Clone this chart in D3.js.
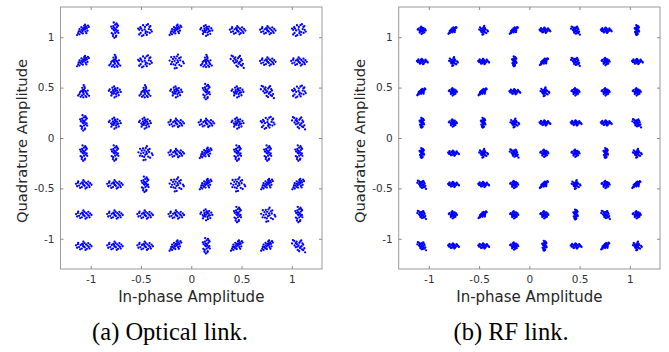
<!DOCTYPE html>
<html>
<head>
<meta charset="utf-8">
<script src="https://cdn.jsdelivr.net/npm/d3@7"></script>
<style>
  html, body { margin: 0; padding: 0; background: #fff; }
  svg { display: block; }
  .tick text { font-family: "DejaVu Sans", sans-serif; font-size: 10.5px; fill: #333; }
  .tick line { stroke: #8a8a8a; }
  .domain { display: none; }
</style>
</head>
<body>
<svg id="chart" width="669" height="352"></svg>
<script>
const levels = [-1.07, -0.76, -0.46, -0.15, 0.15, 0.46, 0.76, 1.07];
const tickValues = [-1, -0.5, 0, 0.5, 1];
const tickLabels = ['-1', '-0.5', '0', '0.5', '1'];
const captions = ['(a) Optical link.', '(b) RF link.'];

// scatter shapes around each symbol, in 1/1000 amplitude units (estimated by eye)
const shapesOptical = [
  [[-65,-49],[-54,-30],[-41,-41],[-35,-11],[-24,-24],[-19,5],[-11,-8],[-5,19],[3,3],[11,24],[16,11],[24,35],[32,19],[43,46],[51,32],[-22,30],[19,-14],[-41,11],[38,-5],[5,43],[-8,-32],[27,-30],[-49,-11],[14,54]],
  [[0,0],[22,11],[-19,14],[12,-24],[-11,-20],[35,-8],[-36,-5],[5,32],[27,35],[-24,39],[49,19],[-51,22],[15,-46],[-7,51],[39,-36],[-34,-38],[59,-3],[-59,8],[-3,-57],[9,16],[-14,-3],[24,-11],[-27,-19],[0,24]],
  [[-76,5],[-57,16],[-45,-12],[-30,8],[-15,19],[-4,-3],[11,-15],[24,14],[38,1],[51,-11],[65,12],[78,-4],[-18,-27],[8,27],[-3,41],[-35,-35],[32,-30],[-54,30],[19,-41],[-8,11],[46,27],[-65,-19],[59,-27],[3,-8]],
  [[-5,-76],[14,-54],[-16,-41],[4,-27],[19,-14],[-12,3],[5,16],[20,30],[-15,41],[3,54],[16,68],[-11,76],[30,-4],[-27,16],[35,-27],[-30,-30],[32,43],[-35,35],[11,-65],[-19,-59],[-3,-5],[11,5],[-8,24],[24,54]],
  [[-57,4],[-46,30],[-19,49],[16,51],[45,32],[58,3],[47,-27],[18,-47],[-16,-50],[-43,-28],[-3,7],[-68,16],[68,-14],[30,59],[-30,-59],[8,-11],[-27,-3],[24,-19],[54,41],[-57,-43],[38,11],[-38,16],[0,32],[5,-30]],
  [[62,-65],[43,-43],[30,-35],[16,-14],[-3,3],[-19,16],[-32,27],[-46,49],[-59,57],[4,30],[27,-3],[-30,-14],[14,43],[43,11],[-11,-41],[54,-24],[-43,4],[3,-54],[24,54],[-68,24],[-14,-8],[11,-22],[-22,41],[35,24]],
  [[0,65],[-14,38],[12,35],[3,19],[-24,5],[22,0],[-4,-11],[-41,-24],[38,-27],[-16,-38],[18,-41],[1,-24],[-30,-51],[27,-54],[54,-41],[-54,-38],[14,8],[-11,14],[-3,-57],[41,11],[-35,-5],[8,49],[-5,-3],[30,-14]],
  [[-65,8],[-41,-5],[-16,3],[19,-7],[41,11],[68,-3],[5,-65],[-8,-38],[3,-16],[-5,27],[8,51],[30,32],[-27,-30],[32,-35],[-32,24],[51,-46],[-49,43],[19,68],[-14,-70],[76,-19],[14,11],[-19,46],[-51,-27],[46,41]]
];
const shapesRF = [
  [[0,0],[13,7],[-11,10],[7,-14],[-8,-13],[22,-4],[-24,-3],[4,22],[18,21],[-15,25],[32,11],[-34,14],[10,-29],[-6,34],[25,-22],[-21,-24],[39,-3],[-41,6],[-3,-38],[6,11],[-6,-4],[14,-6],[-17,-11],[0,17]],
  [[-48,4],[-35,11],[-27,-8],[-17,6],[-8,14],[-1,-1],[7,-11],[15,8],[24,1],[32,-7],[42,8],[53,-3],[-10,-18],[6,17],[-1,25],[-20,-22],[20,-20],[-34,20],[13,-27],[59,-11],[-6,6],[11,3],[-39,-8],[36,17]],
  [[-4,-48],[7,-35],[-8,-27],[3,-17],[11,-7],[-6,1],[4,8],[11,18],[-8,25],[1,34],[8,43],[-6,50],[18,-3],[-15,10],[22,-15],[-18,-18],[20,27],[-22,21],[6,-42],[-11,-39],[-1,-8],[6,14],[-4,17],[14,36]],
  [[-45,-36],[-36,-22],[-31,-28],[-24,-8],[-18,-15],[-14,1],[-7,-6],[-3,8],[3,3],[8,14],[11,6],[17,21],[22,14],[29,31],[35,24],[-8,18],[11,-8],[-21,4],[20,-3],[4,27],[-6,-22],[17,-20],[-31,-6],[0,-8]],
  [[-39,6],[-24,-3],[-8,1],[11,-4],[25,7],[42,-1],[4,-39],[-6,-24],[1,-8],[-4,17],[6,32],[18,20],[-17,-18],[20,-21],[-20,15],[32,-28],[-31,28],[11,42],[-7,-45],[48,-11],[3,6],[-11,-8],[8,-14],[14,11]],
  [[42,-45],[28,-28],[18,-21],[8,-8],[-1,1],[-11,11],[-20,18],[-29,31],[-39,36],[3,18],[17,-1],[-18,-8],[7,28],[28,7],[-7,25],[35,-15],[-28,3],[1,-35],[15,34],[-45,15],[-6,-14],[11,-31],[-14,-25],[22,20]]
];

// which shape each symbol shows, rows top (Q=1.07) to bottom, columns left to right
const gridOptical = [
  [0,3,4,0,1,2,2,4],
  [0,6,4,7,6,5,2,2],
  [6,1,6,1,3,1,5,4],
  [3,1,1,2,2,1,4,5],
  [3,3,7,2,0,3,3,3],
  [2,2,3,7,0,7,0,0],
  [2,2,2,2,1,3,7,3],
  [2,2,2,0,3,0,0,5]
];
const gridRF = [
  [0,3,4,3,1,5,1,2],
  [1,4,1,2,3,5,0,1],
  [3,0,3,1,4,0,0,0],
  [2,0,2,4,1,1,1,5],
  [2,1,4,5,0,0,2,4],
  [5,1,1,0,3,4,0,3],
  [5,0,3,0,0,2,5,0],
  [5,1,1,0,2,1,3,4]
];

const DOMAIN = [-1.3, 1.3];

const panels = [
  {left: 60.5, right: 322, top: 7, bottom: 269, shapes: shapesOptical, grid: gridOptical, caption: captions[0], capX: 170},
  {left: 398.7, right: 660, top: 7, bottom: 269, shapes: shapesRF, grid: gridRF, caption: captions[1], capX: 511}
];

const svg = d3.select('#chart');

function pointsFor(p) {
  const pts = [];
  p.grid.forEach((row, r) => {
    const q = levels[levels.length - 1 - r];
    row.forEach((s, c) => {
      const i = levels[c];
      p.shapes[s].forEach(o => pts.push([i + o[0] / 1000, q + o[1] / 1000]));
    });
  });
  return pts;
}

panels.forEach(p => {
  const x = d3.scaleLinear().domain(DOMAIN).range([p.left, p.right]);
  const y = d3.scaleLinear().domain(DOMAIN).range([p.bottom, p.top]);
  const g = svg.append('g');
  const fmt = (d, i) => tickLabels[i];

  // frame
  g.append('rect')
    .attr('x', p.left).attr('y', p.top)
    .attr('width', p.right - p.left).attr('height', p.bottom - p.top)
    .attr('fill', 'none').attr('stroke', '#9a9a9a').attr('stroke-width', 1);

  g.append('g')
    .attr('transform', 'translate(0,' + p.bottom + ')')
    .call(d3.axisBottom(x).tickValues(tickValues).tickFormat(fmt).tickSizeInner(-3).tickSizeOuter(0).tickPadding(7));
  g.append('g')
    .attr('transform', 'translate(0,' + p.top + ')')
    .call(d3.axisTop(x).tickValues(tickValues).tickFormat('').tickSizeInner(-3).tickSizeOuter(0));
  g.append('g')
    .attr('transform', 'translate(' + p.left + ',0)')
    .call(d3.axisLeft(y).tickValues(tickValues).tickFormat(fmt).tickSizeInner(-3).tickSizeOuter(0).tickPadding(6));
  g.append('g')
    .attr('transform', 'translate(' + p.right + ',0)')
    .call(d3.axisRight(y).tickValues(tickValues).tickFormat('').tickSizeInner(-3).tickSizeOuter(0));

  g.append('g')
    .selectAll('circle')
    .data(pointsFor(p))
    .join('circle')
    .attr('cx', d => x(d[0]))
    .attr('cy', d => y(d[1]))
    .attr('r', 1.15)
    .attr('fill', '#0000ff');

  g.append('text')
    .attr('x', (p.left + p.right) / 2)
    .attr('y', 302)
    .attr('text-anchor', 'middle')
    .style('font-family', '"DejaVu Sans", sans-serif')
    .style('font-size', '15px')
    .style('fill', '#262626')
    .text('In-phase Amplitude');

  g.append('text')
    .attr('transform', 'translate(' + (p.left - 34) + ',' + 141 + ') rotate(-90)')
    .attr('text-anchor', 'middle')
    .style('font-family', '"DejaVu Sans", sans-serif')
    .style('font-size', '14.7px')
    .style('fill', '#262626')
    .text('Quadrature Amplitude');

  g.append('text')
    .attr('x', p.capX)
    .attr('y', 340)
    .attr('text-anchor', 'middle')
    .style('font-family', '"Liberation Serif", "Times New Roman", serif')
    .style('font-size', '24.5px')
    .style('fill', '#000')
    .text(p.caption);
});
</script>
</body>
</html>
